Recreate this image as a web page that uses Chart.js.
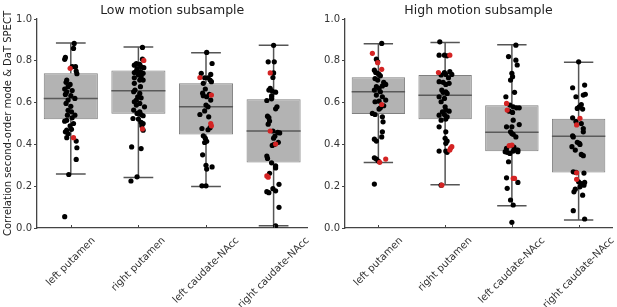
<!DOCTYPE html>
<html><head><meta charset="utf-8">
<script src="https://cdn.jsdelivr.net/npm/chart.js@4.4.0/dist/chart.umd.min.js"></script>
<style>
html,body{margin:0;padding:0;background:#fff;width:617px;height:307px;overflow:hidden}
#c1{position:absolute;left:0;top:0}
#c2{position:absolute;left:310px;top:0}
</style></head><body>
<canvas id="c1" width="310" height="307"></canvas>
<canvas id="c2" width="307" height="307"></canvas>
<script>
const categories = ['left putamen','right putamen','left caudate-NAcc','right caudate-NAcc'];
const yTicks = [0.0,0.2,0.4,0.6,0.8,1.0];
const yLabel = 'Correlation second-order mode & DaT SPECT';
const titles = ['Low motion subsample','High motion subsample'];

// box statistics (low motion)
const lowQ1  = [0.520,0.547,0.447,0.313];
const lowMed = [0.620,0.657,0.580,0.464];
const lowQ3  = [0.740,0.754,0.692,0.616];
const lowLo  = [0.258,0.242,0.198,0.011];
const lowHi  = [0.885,0.866,0.839,0.874];
// box statistics (high motion)
const highQ1  = [0.545,0.520,0.367,0.266];
const highMed = [0.652,0.635,0.458,0.439];
const highQ3  = [0.721,0.732,0.587,0.523];
const highLo  = [0.313,0.207,0.107,0.038];
const highHi  = [0.882,0.887,0.877,0.793];

// subjects: values, horizontal jitter (category units), red subject indices
const lowLPv = [0.883,0.859,0.816,0.807,0.764,0.772,0.772,0.751,0.738,0.708,0.697,0.687,0.676,0.665,0.658,0.652,0.639,0.633,0.620,0.612,0.596,0.582,0.563,0.556,0.540,0.540,0.527,0.515,0.511,0.500,0.489,0.468,0.472,0.460,0.451,0.432,0.432,0.416,0.384,0.328,0.256,0.054];
const lowLPj = [0.05,0.04,-0.08,-0.09,-0.01,0.02,0.07,0.08,0.09,-0.06,-0.07,-0.01,-0.04,-0.09,0.02,-0.06,-0.08,0.00,0.06,-0.04,-0.07,0.00,-0.04,0.01,0.06,-0.05,0.02,-0.06,-0.09,0.04,-0.01,-0.06,0.01,-0.08,-0.04,-0.06,0.04,0.08,0.09,0.08,-0.03,-0.09];
const lowLPred = [4,36];

const lowRPv = [0.864,0.808,0.802,0.787,0.779,0.783,0.771,0.763,0.767,0.751,0.748,0.744,0.740,0.732,0.724,0.719,0.708,0.708,0.692,0.676,0.660,0.652,0.644,0.628,0.623,0.612,0.604,0.596,0.580,0.588,0.564,0.556,0.548,0.543,0.537,0.524,0.521,0.505,0.500,0.489,0.474,0.468,0.388,0.380,0.245,0.225];
const lowRPj = [0.06,0.06,0.08,-0.03,-0.06,0.02,0.04,-0.02,0.08,-0.03,0.03,-0.06,0.07,0.00,0.04,-0.06,0.02,0.07,-0.06,0.03,-0.05,-0.07,0.02,-0.01,0.04,-0.03,-0.06,0.02,0.09,-0.03,-0.07,0.02,-0.02,0.04,0.07,-0.08,0.00,0.04,0.07,0.05,0.06,0.07,-0.10,0.04,-0.02,-0.11];
const lowRPred = [2,40];

const lowLCv = [0.840,0.787,0.740,0.735,0.720,0.719,0.719,0.708,0.700,0.692,0.665,0.645,0.640,0.636,0.628,0.633,0.612,0.588,0.580,0.560,0.543,0.532,0.500,0.489,0.480,0.476,0.470,0.441,0.429,0.415,0.409,0.350,0.300,0.292,0.282,0.202,0.202];
const lowLCj = [0.01,0.09,-0.07,0.07,-0.09,-0.02,0.03,0.06,0.08,-0.04,-0.01,-0.05,0.05,0.08,0.01,-0.04,0.07,0.00,0.03,-0.02,-0.09,0.04,0.07,0.08,0.06,-0.06,0.03,-0.04,-0.01,0.01,-0.02,-0.05,0.00,0.09,0.01,-0.06,0.00];
const lowLCred = [4,13,22,23];

const lowRCv = [0.874,0.795,0.795,0.742,0.742,0.720,0.668,0.660,0.655,0.650,0.632,0.618,0.610,0.580,0.570,0.535,0.528,0.512,0.497,0.464,0.464,0.458,0.455,0.440,0.430,0.402,0.410,0.395,0.400,0.344,0.333,0.312,0.297,0.287,0.249,0.243,0.262,0.209,0.174,0.169,0.178,0.188,0.099,0.010];
const lowRCj = [0.00,-0.08,0.01,-0.05,0.00,-0.01,-0.05,-0.07,-0.02,0.03,-0.03,-0.03,-0.10,0.05,0.03,-0.09,-0.07,-0.06,-0.08,-0.05,-0.01,0.06,0.09,0.02,0.00,0.03,0.07,-0.02,0.01,-0.10,-0.09,-0.03,0.03,0.03,-0.10,-0.08,-0.06,0.08,-0.10,-0.07,0.03,-0.01,0.08,0.03];
const lowRCred = [3,19,25,34,35];

const highLPv = [0.883,0.836,0.808,0.795,0.791,0.759,0.755,0.744,0.740,0.735,0.728,0.715,0.708,0.697,0.687,0.680,0.676,0.668,0.660,0.652,0.636,0.628,0.612,0.607,0.604,0.591,0.585,0.575,0.569,0.548,0.543,0.532,0.508,0.460,0.436,0.425,0.416,0.336,0.330,0.320,0.314,0.330,0.210];
const highLPj = [0.05,-0.09,-0.03,-0.01,-0.01,0.05,-0.06,-0.04,-0.01,0.01,0.03,-0.05,-0.01,0.08,0.11,0.06,-0.03,0.01,-0.06,0.03,-0.03,0.06,0.11,0.01,-0.05,0.05,0.08,0.03,0.01,-0.09,-0.05,0.06,0.07,0.06,0.05,-0.06,-0.03,-0.06,-0.03,0.00,0.02,0.11,-0.06];
const highLPred = [1,4,5,25,40,41];

const highRPv = [0.891,0.827,0.827,0.827,0.824,0.744,0.744,0.732,0.735,0.748,0.735,0.719,0.700,0.697,0.687,0.692,0.660,0.652,0.644,0.649,0.628,0.620,0.604,0.580,0.564,0.556,0.559,0.540,0.543,0.532,0.516,0.521,0.484,0.460,0.429,0.416,0.405,0.389,0.381,0.373,0.368,0.368,0.362,0.205,0.205];
const highRPj = [-0.08,-0.09,-0.01,0.07,0.03,-0.10,-0.01,-0.06,0.01,0.07,0.10,0.05,-0.09,-0.03,0.01,0.06,-0.05,0.01,0.03,-0.03,-0.09,-0.01,-0.06,0.00,0.01,-0.04,0.06,-0.09,-0.01,0.03,-0.06,0.01,-0.09,0.01,0.00,0.03,0.01,0.10,0.08,0.07,-0.09,0.01,0.03,-0.05,-0.06];
const highRPred = [3,5,37,38,39,43];

const highLCv = [0.875,0.820,0.803,0.780,0.740,0.724,0.708,0.649,0.628,0.596,0.588,0.580,0.575,0.575,0.564,0.559,0.553,0.516,0.484,0.484,0.495,0.460,0.452,0.448,0.436,0.394,0.397,0.381,0.387,0.373,0.365,0.362,0.357,0.368,0.373,0.365,0.317,0.240,0.237,0.237,0.218,0.190,0.134,0.110,0.027];
const highLCj = [0.06,-0.05,0.06,0.08,0.00,0.01,-0.02,0.04,-0.09,-0.08,-0.03,0.02,0.07,0.11,-0.07,-0.04,0.01,0.02,-0.08,0.00,0.11,-0.02,0.00,0.02,0.06,-0.04,0.00,-0.08,0.03,0.09,-0.10,-0.07,-0.03,0.02,0.07,0.09,-0.05,-0.08,0.02,0.04,0.09,-0.07,-0.02,0.02,0.00];
const highLCred = [9,14,25,26,38,39];

const highRCv = [0.795,0.684,0.671,0.640,0.636,0.628,0.591,0.580,0.572,0.569,0.525,0.527,0.510,0.500,0.493,0.476,0.460,0.441,0.436,0.410,0.405,0.400,0.389,0.373,0.352,0.346,0.269,0.266,0.264,0.263,0.233,0.221,0.213,0.205,0.218,0.186,0.173,0.197,0.157,0.083,0.043];
const highRCj = [0.00,0.09,-0.09,0.10,0.07,-0.04,0.04,0.01,-0.02,0.06,0.02,-0.09,-0.04,0.04,-0.03,0.07,0.07,-0.09,-0.08,-0.02,0.01,0.02,-0.10,-0.05,0.04,0.07,-0.08,-0.04,-0.03,0.08,-0.03,0.00,0.04,0.08,0.09,-0.05,-0.07,0.02,0.06,-0.08,0.09];
const highRCred = [10,14,28,30];

const FONT = '"DejaVu Sans", "Bitstream Vera Sans", sans-serif';
const RED = '#d42424';

function points(groups, wantRed) {
  const out = [];
  groups.forEach((g, i) => {
    g[0].forEach((v, k) => {
      const isRed = g[2].includes(k);
      if (isRed === wantRed) out.push({x: i + g[1][k], y: v});
    });
  });
  return out;
}
function whiskers(q1, q3, lo, hi) {
  const d = [];
  const gap = {x: 0, y: null};
  for (let i = 0; i < q1.length; i++) {
    d.push({x: i, y: q3[i]}, {x: i, y: hi[i]}, gap);
    d.push({x: i - 0.22, y: hi[i]}, {x: i + 0.22, y: hi[i]}, gap);
    d.push({x: i, y: q1[i]}, {x: i, y: lo[i]}, gap);
    d.push({x: i - 0.22, y: lo[i]}, {x: i + 0.22, y: lo[i]}, gap);
  }
  return d;
}
function medians(med) {
  const d = [];
  med.forEach((m, i) => { d.push({x: i - 0.4, y: m}, {x: i + 0.4, y: m}, {x: 0, y: null}); });
  return d;
}

const xLabelPlugin = {
  id: 'xlabels',
  afterDraw(chart) {
    const ctx = chart.ctx, sx = chart.scales.x, bottom = chart.chartArea.bottom;
    ctx.save();
    ctx.font = '10px ' + FONT;
    ctx.fillStyle = '#333';
    ctx.strokeStyle = '#444';
    ctx.lineWidth = 1;
    ctx.textAlign = 'center';
    ctx.textBaseline = 'middle';
    categories.forEach((lab, i) => {
      const x = sx.getPixelForValue(i);
      ctx.beginPath(); ctx.moveTo(Math.round(x) + 0.5, bottom); ctx.lineTo(Math.round(x) + 0.5, bottom - 3); ctx.stroke();
      const w = ctx.measureText(lab).width;
      const half = (w * Math.SQRT1_2 + 6) / 2;
      ctx.save();
      ctx.translate(x, bottom + 8 + half);
      ctx.rotate(-Math.PI / 4);
      ctx.fillText(lab, 0, 0);
      ctx.restore();
    });
    ctx.restore();
  }
};

function makeChart(id, title, stats, groups, yWidth, padRight, showYTitle) {
  const [q1, med, q3, lo, hi] = stats;
  return new Chart(document.getElementById(id), {
    type: 'bar',
    data: {
      datasets: [
        {type: 'scatter', data: points(groups, true), backgroundColor: RED, borderWidth: 0, pointRadius: 2.6, pointHoverRadius: 2.6},
        {type: 'scatter', data: points(groups, false), backgroundColor: '#000', borderWidth: 0, pointRadius: 2.6, pointHoverRadius: 2.6},
        {type: 'line', data: medians(med), borderColor: '#5a5a5a', borderWidth: 1.5, pointRadius: 0, spanGaps: false, tension: 0, fill: false},
        {type: 'line', data: whiskers(q1, q3, lo, hi), borderColor: '#555', borderWidth: 1.5, pointRadius: 0, spanGaps: false, tension: 0, fill: false},
        {type: 'bar', grouped: false, data: q1.map((v, i) => ({x: i, y: [v, q3[i]]})), backgroundColor: '#b3b3b3', borderColor: '#808080', borderWidth: 1, borderSkipped: false, barPercentage: 0.8, categoryPercentage: 1.0}
      ]
    },
    options: {
      responsive: false,
      animation: false,
      devicePixelRatio: 1,
      events: [],
      layout: {padding: {left: 0, right: padRight, top: 0, bottom: 0}},
      plugins: {
        legend: {display: false},
        tooltip: {enabled: false},
        title: {display: true, text: title, fullSize: false, color: '#222', font: {family: FONT, size: 12.5, weight: 'normal'}, padding: {top: 3, bottom: 1}}
      },
      scales: {
        x: {
          type: 'linear', min: -0.5, max: 3.5, position: 'bottom', offset: false,
          afterBuildTicks: a => { a.ticks = categories.map((c, i) => ({value: i})); },
          afterFit: a => { a.height = 79; },
          ticks: {display: false},
          grid: {display: false},
          border: {display: true, color: '#444', width: 1.3}
        },
        y: {
          min: 0, max: 1,
          afterFit: a => { a.width = yWidth; },
          afterBuildTicks: a => { a.ticks = yTicks.map(v => ({value: v})); },
          ticks: {callback: v => Number(v).toFixed(1), color: '#333', font: {family: FONT, size: 10}, padding: 2},
          grid: {display: true, drawOnChartArea: false, drawTicks: true, tickLength: 3, color: '#444'},
          border: {display: true, color: '#444', width: 1.3},
          title: {display: showYTitle, text: yLabel, color: '#222', font: {family: FONT, size: 10}, padding: {top: 2, bottom: 0}}
        }
      }
    },
    plugins: [xLabelPlugin]
  });
}

makeChart('c1', titles[0], [lowQ1, lowMed, lowQ3, lowLo, lowHi],
  [[lowLPv, lowLPj, lowLPred], [lowRPv, lowRPj, lowRPred], [lowLCv, lowLCj, lowLCred], [lowRCv, lowRCj, lowRCred]], 37, 2, true);
makeChart('c2', titles[1], [highQ1, highMed, highQ3, highLo, highHi],
  [[highLPv, highLPj, highLPred], [highRPv, highRPj, highRPred], [highLCv, highLCj, highLCred], [highRCv, highRCj, highRCred]], 35, 5, false);
</script>
</body></html>
